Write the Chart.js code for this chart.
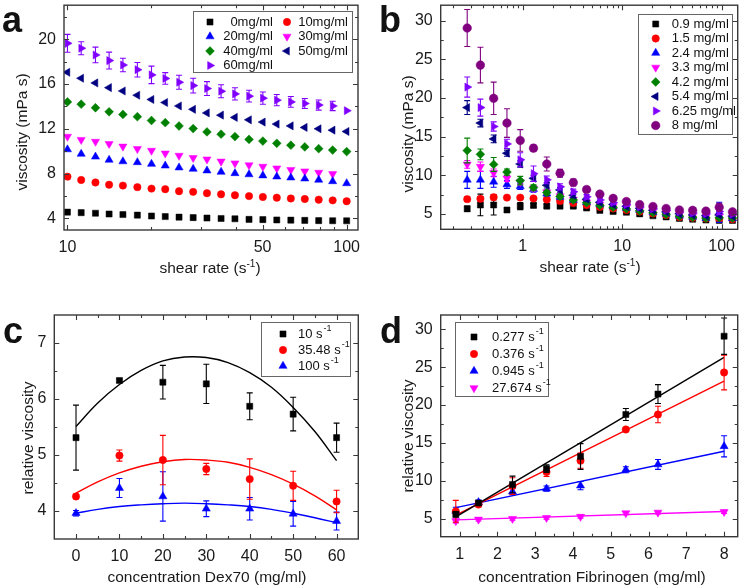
<!DOCTYPE html>
<html>
<head>
<meta charset="utf-8">
<script src="https://cdn.jsdelivr.net/npm/chart.js@4.4.1/dist/chart.umd.min.js"></script>
<style>
  body { margin: 0; background: #fff; width: 750px; height: 588px; position: relative; overflow: hidden;
         font-family: 'Liberation Sans', Arial, sans-serif; color: #1a1a1a; }
  canvas { position: absolute; }
  .letter { position: absolute; font: bold 36px 'Liberation Sans', Arial, sans-serif; line-height: 36px; color: #111; }
  .xt, .yt { position: absolute; white-space: nowrap; font-size: 15.5px; line-height: 18px; }
  .xt { transform: translate(-50%, -50%); }
  .yt { transform: translate(-50%, -50%) rotate(-90deg); }
  .sup { font-size: 10px; position: relative; top: -6px; }
</style>
</head>
<body>
<canvas id="chart-a" width="375" height="294" style="left:0;top:0"></canvas>
<canvas id="chart-b" width="375" height="294" style="left:375px;top:0"></canvas>
<canvas id="chart-c" width="375" height="294" style="left:0;top:294px"></canvas>
<canvas id="chart-d" width="375" height="294" style="left:375px;top:294px"></canvas>

<div class="letter" style="left:2px;top:2px">a</div>
<div class="letter" style="left:379px;top:2px">b</div>
<div class="letter" style="left:3px;top:313px">c</div>
<div class="letter" style="left:380px;top:313px">d</div>

<div class="xt" style="left:210px;top:269px">shear rate (s<span class="sup">-1</span>)</div>
<div class="yt" style="left:22px;top:132px">viscosity (mPa s)</div>
<div class="xt" style="left:590px;top:268px">shear rate (s<span class="sup">-1</span>)</div>
<div class="yt" style="left:408px;top:134px">viscosity (mPa s)</div>
<div class="xt" style="left:207px;top:577px">concentration Dex70 (mg/ml)</div>
<div class="yt" style="left:28px;top:438px">relative viscosity</div>
<div class="xt" style="left:592px;top:577px">concentration Fibrinogen (mg/ml)</div>
<div class="yt" style="left:408px;top:436px">relative viscosity</div>

<script>
'use strict';
// ── data: panel a (Dex70 solutions) ─────────────────────────────────────────
const aShear = [10, 11.2, 12.6, 14.1, 15.8, 17.8, 20, 22.4, 25.1, 28.2, 31.6, 35.5, 39.8, 44.7, 50.1, 56.2, 63.1, 70.8, 79.4, 89.1, 100];
const aDex0  = [4.55, 4.5, 4.45, 4.38, 4.33, 4.28, 4.2, 4.15, 4.1, 4.06, 4.02, 3.98, 3.95, 3.9, 3.88, 3.85, 3.83, 3.81, 3.79, 3.78, 3.77];
const aDex10 = [7.72, 7.42, 7.2, 7.0, 6.92, 6.78, 6.65, 6.6, 6.42, 6.36, 6.24, 6.14, 6.06, 5.98, 5.9, 5.84, 5.77, 5.72, 5.66, 5.6, 5.52];
const aDex20 = [10.15, 9.75, 9.5, 9.22, 9.08, 9.0, 8.85, 8.7, 8.53, 8.41, 8.26, 8.14, 8.02, 7.92, 7.82, 7.72, 7.63, 7.54, 7.43, 7.3, 7.12];
const aDex30 = [11.3, 11.02, 10.85, 10.65, 10.42, 10.2, 10.05, 9.8, 9.6, 9.4, 9.27, 9.08, 8.92, 8.75, 8.62, 8.47, 8.33, 8.2, 8.08, 7.96];
const aDex40 = [14.4, 14.2, 13.88, 13.52, 13.28, 13.08, 12.74, 12.55, 12.25, 12.02, 11.72, 11.52, 11.3, 11.05, 10.9, 10.7, 10.53, 10.38, 10.22, 10.1, 9.96];
const aDex50 = [17.05, 16.52, 16.1, 15.68, 15.38, 15.0, 14.62, 14.35, 14.04, 13.74, 13.42, 13.22, 13.02, 12.8, 12.6, 12.42, 12.26, 12.12, 12.0, 11.88, 11.76];
const aDex60 = [19.64, 19.2, 18.6, 18.1, 17.7, 17.28, 16.82, 16.5, 16.16, 15.86, 15.6, 15.36, 15.12, 14.92, 14.74, 14.56, 14.4, 14.26, 14.12, 14.04, 13.62];
const aDex60Err = [0.8, 0.58, 0.7, 0.75, 0.6, 0.65, 0.78, 0.52, 0.62, 0.66, 0.62, 0.58, 0.55, 0.52, 0.55, 0.5, 0.48, 0.45, 0.45, 0.42, 0];
const aLabels = ['0mg/ml', '10mg/ml', '20mg/ml', '30mg/ml', '40mg/ml', '50mg/ml', '60mg/ml'];
const aTicksX = [10, 50, 100], aMinorX = [20, 30, 40, 60, 70, 80, 90];
const aTicksY = [4, 8, 12, 16, 20], aMinorY = [6, 10, 14, 18, 22];

// ── data: panel b (fibrinogen solutions) ────────────────────────────────────
const bShear = [0.277, 0.376, 0.511, 0.695, 0.945, 1.285, 1.747, 2.375, 3.229, 4.39, 5.969, 8.115, 11.03, 15.0, 20.39, 27.674, 37.62, 51.15, 69.54, 94.54, 128.5];
const bFib09  = [5.65, 6.15, 6.15, 5.5, 6.0, 6.1, 6.0, 6.0, 6.0, 5.75, 5.45, 5.3, 5.2, 5.0, 4.75, 4.6, 4.4, 4.3, 4.2, 4.15, 4.15];
const bFib09Err  = [0.35, 1.4, 1.3, 0.15, 0.45, 0.25, 0.2, 0.2, 0.2, 0.2, 0.15, 0.15, 0.15, 0.15, 0.15, 0.15, 0.15, 0.15, 0.15, 0.2, 0.15];
const bFib15  = [6.9, 6.95, 7.15, 7.1, 7.1, 7.0, 6.85, 6.65, 6.4, 6.15, 5.9, 5.7, 5.5, 5.3, 5.05, 4.85, 4.6, 4.5, 4.4, 4.35, 4.3];
const bFib15Err  = [0.3, 0.3, 0.35, 0.2, 0.25, 0.2, 0.2, 0.2, 0.2, 0.15, 0.15, 0.15, 0.15, 0.15, 0.15, 0.15, 0.15, 0.15, 0.15, 0.2, 0.15];
const bFib24  = [9.4, 9.4, 9.15, 8.8, 8.55, 8.2, 7.6, 7.2, 6.8, 6.5, 6.2, 5.95, 5.75, 5.5, 5.2, 5.0, 4.75, 4.6, 4.45, 5.2, 4.4];
const bFib24Err  = [1.1, 1.1, 0.7, 0.5, 0.4, 0.4, 0.3, 0.3, 0.3, 0.3, 0.25, 0.25, 0.2, 0.2, 0.2, 0.2, 0.2, 0.2, 0.2, 1.3, 0.2];
const bFib33  = [11.4, 11.1, 10.3, 9.6, 9.1, 8.3, 7.8, 7.3, 6.85, 6.5, 6.2, 6.0, 5.8, 5.5, 5.3, 5.1, 4.85, 4.7, 4.6, 4.7, 4.55];
const bFib33Err  = [0.5, 0.6, 0.5, 0.4, 0.35, 0.3, 0.3, 0.25, 0.25, 0.2, 0.2, 0.2, 0.2, 0.2, 0.2, 0.2, 0.2, 0.2, 0.2, 0.25, 0.2];
const bFib42  = [13.2, 12.7, 11.4, 10.4, 9.3, 8.4, 7.75, 7.25, 6.8, 6.45, 6.1, 5.85, 5.65, 5.4, 5.15, 4.95, 4.7, 4.55, 4.45, 4.5, 4.45];
const bFib42Err  = [1.6, 0.7, 0.9, 0.4, 0.55, 0.35, 0.3, 0.3, 0.25, 0.25, 0.2, 0.2, 0.2, 0.2, 0.2, 0.2, 0.2, 0.2, 0.2, 0.2, 0.2];
const bFib54  = [18.75, 16.75, 14.7, 12.85, 11.45, 9.6, 8.7, 8.1, 7.4, 6.9, 6.5, 6.2, 5.95, 5.7, 5.45, 5.25, 5.0, 4.85, 4.75, 4.85, 4.7];
const bFib54Err  = [0.9, 0.5, 0.5, 0.4, 0.4, 0.4, 0.35, 0.3, 0.3, 0.25, 0.25, 0.2, 0.2, 0.2, 0.2, 0.2, 0.2, 0.2, 0.2, 0.2, 0.2];
const bFib625 = [21.4, 18.75, 16.3, 14.05, 12.0, 10.2, 9.4, 8.5, 7.85, 7.2, 6.8, 6.45, 6.2, 5.9, 5.65, 5.45, 5.25, 5.1, 5.0, 5.3, 4.95];
const bFib625Err = [1.3, 1.1, 0.6, 0.6, 0.9, 1.0, 0.5, 0.4, 0.35, 0.3, 0.3, 0.25, 0.25, 0.2, 0.2, 0.2, 0.2, 0.2, 0.2, 0.4, 0.2];
const bFib8   = [29.05, 24.25, 19.95, 16.75, 14.5, 13.5, 11.45, 10.25, 9.05, 8.15, 7.55, 7.0, 6.6, 6.2, 5.95, 5.7, 5.5, 5.45, 5.35, 5.85, 5.25];
const bFib8Err   = [2.4, 2.3, 2.1, 1.85, 1.4, 0.4, 0.9, 0.5, 0.45, 0.35, 0.3, 0.3, 0.25, 0.25, 0.2, 0.2, 0.2, 0.2, 0.2, 0.5, 0.2];
const bLabels = ['0.9 mg/ml', '1.5 mg/ml', '2.4 mg/ml', '3.3 mg/ml', '4.2 mg/ml', '5.4 mg/ml', '6.25 mg/ml', '8 mg/ml'];
const bTicksX = [1, 10, 100];
const bMinorX = [0.2, 0.3, 0.4, 0.5, 0.6, 0.7, 0.8, 0.9, 2, 3, 4, 5, 6, 7, 8, 9, 20, 30, 40, 50, 60, 70, 80, 90];
const bTicksY = [5, 10, 15, 20, 25, 30], bMinorY = [7.5, 12.5, 17.5, 22.5, 27.5];

// ── data: panel c (relative viscosity vs Dex70) ─────────────────────────────
const cDex = [0, 10, 20, 30, 40, 50, 60];
const c10   = [5.31, 6.33, 6.30, 6.27, 5.87, 5.73, 5.31];
const c10Err  = [0.58, 0.03, 0.3, 0.35, 0.24, 0.3, 0.26];
const c35   = [4.26, 4.99, 4.91, 4.75, 4.57, 4.45, 4.17];
const c35Err  = [0.04, 0.1, 0.44, 0.1, 0.36, 0.26, 0.2];
const c100  = [3.96, 4.41, 4.26, 4.04, 4.04, 3.95, 3.82];
const c100Err = [0.05, 0.17, 0.44, 0.14, 0.2, 0.22, 0.16];
const cFitX   = [0, 5, 10, 15, 20, 25, 30, 35, 40, 45, 50, 55, 60];
const cFit10  = [5.51, 5.93, 6.26, 6.51, 6.68, 6.75, 6.74, 6.65, 6.47, 6.21, 5.85, 5.42, 4.90];
const cFit35  = [4.32, 4.52, 4.68, 4.80, 4.88, 4.92, 4.91, 4.87, 4.78, 4.65, 4.48, 4.27, 4.02];
const cFit100 = [3.96, 4.03, 4.08, 4.11, 4.13, 4.14, 4.13, 4.11, 4.08, 4.03, 3.96, 3.88, 3.79];
const cLabels = ['10 s^-1', '35.48 s^-1', '100 s^-1'];
const cTicksX = [0, 10, 20, 30, 40, 50, 60], cMinorX = [5, 15, 25, 35, 45, 55];
const cTicksY = [4, 5, 6, 7], cMinorY = [4.5, 5.5, 6.5];

// ── data: panel d (relative viscosity vs fibrinogen) ────────────────────────
const dFib = [0.9, 1.5, 2.4, 3.3, 4.2, 5.4, 6.25, 8];
const d277   = [5.55, 7.05, 9.5, 11.6, 13.2, 18.75, 21.45, 29.1];
const d277Err  = [0.35, 0.3, 1.1, 0.5, 1.7, 0.8, 1.25, 2.4];
const d376   = [5.95, 6.85, 9.3, 11.15, 12.65, 16.77, 18.75, 24.3];
const d376Err  = [1.45, 0.3, 1.1, 0.6, 1.0, 0.2, 1.1, 2.3];
const d945   = [6.0, 7.15, 8.55, 8.95, 9.35, 11.45, 12.15, 14.55];
const d945Err  = [0.5, 0.3, 0.4, 0.35, 0.55, 0.4, 0.65, 1.4];
const d27674 = [4.68, 4.88, 4.97, 5.1, 5.25, 5.72, 5.8, 5.88];
const d27674Err = [0.25, 0.2, 0.2, 0.2, 0.2, 0.2, 0.2, 0.2];
const dFitX = [0.9, 8];
const dFit277 = [5.22, 26.3], dFit376 = [5.44, 23.15], dFit945 = [6.45, 13.9], dFit27674 = [4.82, 5.93];
const dLabels = ['0.277 s^-1', '0.376 s^-1', '0.945 s^-1', '27.674 s^-1'];
const dTicksX = [1, 2, 3, 4, 5, 6, 7, 8], dMinorX = [1.5, 2.5, 3.5, 4.5, 5.5, 6.5, 7.5];
const dTicksY = [5, 10, 15, 20, 25, 30], dMinorY = [7.5, 12.5, 17.5, 22.5, 27.5];

// ── styles ──────────────────────────────────────────────────────────────────
const FONT = "'Liberation Sans', Arial, sans-serif";
Chart.defaults.font.family = FONT;
Chart.defaults.color = '#1a1a1a';

const BLACK = '#000000', RED = '#ff0000', BLUE = '#0000ff', MAGENTA = '#ff00ff',
      GREEN = '#008000', NAVY = '#000080', VIOLET = '#8000ff', PURPLE = '#800080';

const SHAPE = {
  square:  { style: 'rect',     rot: 0,   r: 4.3 },
  circle:  { style: 'circle',   rot: 0,   r: 3.7 },
  up:      { style: 'triangle', rot: 0,   r: 4.7 },
  down:    { style: 'triangle', rot: 180, r: 4.7 },
  diamond: { style: 'rectRot',  rot: 0,   r: 4.4 },
  left:    { style: 'triangle', rot: -90, r: 4.7 },
  right:   { style: 'triangle', rot: 90,  r: 4.7 },
};

function pts(xs, ys) { return ys.map((y, i) => ({ x: xs[i], y })); }

function marker(label, xs, ys, errs, color, shape, order) {
  const s = SHAPE[shape];
  return {
    label, data: pts(xs, ys), errors: errs, order: order || 0,
    backgroundColor: color, borderColor: color, borderWidth: 0.5,
    pointRadius: s.r, pointStyle: s.style, pointRotation: s.rot,
  };
}

function fitLine(xs, ys, color, tension) {
  return { data: pts(xs, ys), showLine: true, borderColor: color, borderWidth: 1.4,
           pointRadius: 0, tension, order: 20 };
}

// text with a "^-1" style superscript tail
function richText(ctx, text, x, y, align) {
  const [base, sup] = text.split('^');
  ctx.font = `13px ${FONT}`;
  const wb = ctx.measureText(base).width;
  ctx.font = `9px ${FONT}`;
  const ws = sup ? ctx.measureText(sup).width + 1 : 0;
  const x0 = align === 'right' ? x - wb - ws : x;
  ctx.textAlign = 'left';
  ctx.textBaseline = 'middle';
  ctx.font = `13px ${FONT}`;
  ctx.fillText(base, x0, y);
  if (sup) { ctx.font = `9px ${FONT}`; ctx.fillText(sup, x0 + wb + 1, y - 5); }
}

// ── plugins ────────────────────────────────────────────────────────────────
const errorBars = {
  id: 'errorBars',
  beforeDatasetDraw(chart, args) {
    const ds = chart.data.datasets[args.index];
    if (!ds.errors) return;
    const { ctx, chartArea: a, scales: { y } } = chart;
    ctx.save();
    ctx.beginPath();
    ctx.rect(a.left, a.top - 2, a.right - a.left, a.bottom - a.top + 4);
    ctx.clip();
    ctx.strokeStyle = ds.borderColor;
    ctx.lineWidth = 1.1;
    args.meta.data.forEach((pt, j) => {
      const e = ds.errors[j];
      if (!e) return;
      const v = ds.data[j].y;
      const t = y.getPixelForValue(v + e), b = y.getPixelForValue(v - e);
      ctx.beginPath();
      ctx.moveTo(pt.x, t); ctx.lineTo(pt.x, b);
      ctx.moveTo(pt.x - 3, t); ctx.lineTo(pt.x + 3, t);
      ctx.moveTo(pt.x - 3, b); ctx.lineTo(pt.x + 3, b);
      ctx.stroke();
    });
    ctx.restore();
  }
};

const frameTicks = {
  id: 'frameTicks',
  afterDatasetsDraw(chart, args, o) {
    const { ctx, chartArea: a, scales: { x, y } } = chart;
    ctx.save();
    ctx.strokeStyle = '#383838';
    ctx.lineWidth = 1.4;
    ctx.strokeRect(a.left, a.top, a.right - a.left, a.bottom - a.top);
    ctx.lineWidth = 1.1;
    const vert = (vals, len) => vals.forEach(v => {
      const px = Math.round(x.getPixelForValue(v)) + 0.5;
      ctx.beginPath();
      ctx.moveTo(px, a.bottom); ctx.lineTo(px, a.bottom - len);
      ctx.moveTo(px, a.top); ctx.lineTo(px, a.top + len);
      ctx.stroke();
    });
    const horz = (vals, len) => vals.forEach(v => {
      const py = Math.round(y.getPixelForValue(v)) + 0.5;
      ctx.beginPath();
      ctx.moveTo(a.left, py); ctx.lineTo(a.left + len, py);
      ctx.moveTo(a.right, py); ctx.lineTo(a.right - len, py);
      ctx.stroke();
    });
    vert(o.xMajor, 5); vert(o.xMinor, 3);
    horz(o.yMajor, 5); horz(o.yMinor, 3);
    ctx.restore();
  }
};

const boxLegend = {
  id: 'boxLegend',
  afterDraw(chart, args, o) {
    const ctx = chart.ctx;
    const [bx, by, bw, bh] = o.box;
    ctx.save();
    ctx.fillStyle = '#fff';
    ctx.fillRect(bx, by, bw, bh);
    ctx.strokeStyle = '#666';
    ctx.lineWidth = 1;
    ctx.strokeRect(bx + 0.5, by + 0.5, bw, bh);
    o.items.forEach(it => {
      const ds = chart.data.datasets[it.ds];
      ctx.fillStyle = ds.backgroundColor;
      ctx.strokeStyle = ds.borderColor;
      ctx.lineWidth = ds.borderWidth;
      Chart.helpers.drawPoint(ctx, { pointStyle: ds.pointStyle, rotation: ds.pointRotation,
        radius: ds.pointRadius, borderWidth: ds.borderWidth }, it.mx, it.y);
      ctx.fillStyle = '#111';
      richText(ctx, ds.label, it.tx, it.y, it.align);
    });
    ctx.restore();
  }
};

// ── chart factory ──────────────────────────────────────────────────────────
function makePanel(id, p) {
  const W = 375, H = 294;
  const fixPad = s => { s.paddingTop = 0; s.paddingBottom = 0; s.paddingLeft = 0; s.paddingRight = 0; };
  const tickFont = { size: 16, family: FONT };
  return new Chart(document.getElementById(id), {
    type: 'scatter',
    data: { datasets: p.datasets },
    options: {
      responsive: false, animation: false, events: [],
      layout: { padding: { left: 0, top: p.area.top, right: W - p.area.right, bottom: 0 } },
      plugins: {
        legend: { display: false }, tooltip: { enabled: false },
        frameTicks: { xMajor: p.xTicks, xMinor: p.xMinor, yMajor: p.yTicks, yMinor: p.yMinor },
        boxLegend: p.legend,
      },
      scales: {
        x: {
          type: p.xType, min: p.xRange[0], max: p.xRange[1],
          grid: { display: false, drawTicks: false }, border: { display: false },
          afterBuildTicks: s => { s.ticks = p.xTicks.map(v => ({ value: v })); },
          ticks: { font: tickFont, color: '#1a1a1a', padding: 8, maxRotation: 0, autoSkip: false,
                   callback: v => String(v) },
          afterFit: s => { fixPad(s); s.height = H - p.area.bottom; },
        },
        y: {
          type: 'linear', min: p.yRange[0], max: p.yRange[1],
          grid: { display: false, drawTicks: false }, border: { display: false },
          afterBuildTicks: s => { s.ticks = p.yTicks.map(v => ({ value: v })); },
          ticks: { font: tickFont, color: '#1a1a1a', padding: 8, autoSkip: false,
                   callback: v => String(v) },
          afterFit: s => { fixPad(s); s.width = p.area.left; },
        },
      },
    },
    plugins: [errorBars, frameTicks, boxLegend],
  });
}

// ── panel a ────────────────────────────────────────────────────────────────
makePanel('chart-a', {
  xType: 'logarithmic', xRange: [9.72, 109.8], yRange: [2.95, 23.05],
  area: { left: 64, right: 358, top: 5, bottom: 230 },
  xTicks: aTicksX, xMinor: aMinorX, yTicks: aTicksY, yMinor: aMinorY,
  datasets: [
    marker(aLabels[0], aShear, aDex0,  null, BLACK,   'square'),
    marker(aLabels[1], aShear, aDex10, null, RED,     'circle'),
    marker(aLabels[2], aShear, aDex20, null, BLUE,    'up'),
    marker(aLabels[3], aShear, aDex30, null, MAGENTA, 'down'),
    marker(aLabels[4], aShear, aDex40, null, GREEN,   'diamond'),
    marker(aLabels[5], aShear, aDex50, null, NAVY,    'left'),
    marker(aLabels[6], aShear, aDex60, aDex60Err, VIOLET, 'right'),
  ],
  legend: {
    box: [193, 11, 159, 61],
    items: [
      { ds: 0, mx: 210, tx: 273, y: 22, align: 'right' },
      { ds: 1, mx: 287, tx: 348, y: 22, align: 'right' },
      { ds: 2, mx: 210, tx: 273, y: 36.5, align: 'right' },
      { ds: 3, mx: 287, tx: 348, y: 36.5, align: 'right' },
      { ds: 4, mx: 210, tx: 273, y: 51, align: 'right' },
      { ds: 5, mx: 287, tx: 348, y: 51, align: 'right' },
      { ds: 6, mx: 210, tx: 273, y: 65.5, align: 'right' },
    ],
  },
});

// ── panel b ────────────────────────────────────────────────────────────────
const bSeries = [bFib09, bFib15, bFib24, bFib33, bFib42, bFib54, bFib625, bFib8];
const bErrs = [bFib09Err, bFib15Err, bFib24Err, bFib33Err, bFib42Err, bFib54Err, bFib625Err, bFib8Err];
const bColors = [BLACK, RED, BLUE, MAGENTA, GREEN, NAVY, VIOLET, PURPLE];
const bShapes = ['square', 'circle', 'up', 'down', 'diamond', 'left', 'right', 'circle'];
makePanel('chart-b', {
  xType: 'logarithmic', xRange: [0.15, 145], yRange: [3, 32],
  area: { left: 65.7, right: 362.7, top: 5, bottom: 229.3 },
  xTicks: bTicksX, xMinor: bMinorX, yTicks: bTicksY, yMinor: bMinorY,
  datasets: bSeries.map((s, i) => {
    const d = marker(bLabels[i], bShear, s, bErrs[i], bColors[i], bShapes[i], 8 - i);
    if (i === 7) d.pointRadius = 4.3;
    return d;
  }),
  legend: {
    box: [263, 14, 94, 120],
    items: bLabels.map((_, i) => ({ ds: i, mx: 280.7, tx: 296.7, y: 24 + i * 14.5, align: 'left' })),
  },
});

// ── panel c ────────────────────────────────────────────────────────────────
makePanel('chart-c', {
  xType: 'linear', xRange: [-5, 65], yRange: [3.5, 7.5],
  area: { left: 54.3, right: 358.3, top: 21, bottom: 245 },
  xTicks: cTicksX, xMinor: cMinorX, yTicks: cTicksY, yMinor: cMinorY,
  datasets: [
    marker(cLabels[0], cDex, c10,  c10Err,  BLACK, 'square'),
    marker(cLabels[1], cDex, c35,  c35Err,  RED,   'circle'),
    marker(cLabels[2], cDex, c100, c100Err, BLUE,  'up'),
    fitLine(cFitX, cFit10,  BLACK, 0.4),
    fitLine(cFitX, cFit35,  RED,   0.4),
    fitLine(cFitX, cFit100, BLUE,  0.4),
  ],
  legend: {
    box: [261, 28, 89, 54],
    items: [0, 1, 2].map(i => ({ ds: i, mx: 283, tx: 298, y: 40 + i * 16, align: 'left' })),
  },
});

// ── panel d ────────────────────────────────────────────────────────────────
makePanel('chart-d', {
  xType: 'linear', xRange: [0.5, 8.36], yRange: [2.6, 31.9],
  area: { left: 65.7, right: 362.7, top: 21, bottom: 242.7 },
  xTicks: dTicksX, xMinor: dMinorX, yTicks: dTicksY, yMinor: dMinorY,
  datasets: [
    marker(dLabels[0], dFib, d277,   d277Err,   BLACK,   'square'),
    marker(dLabels[1], dFib, d376,   d376Err,   RED,     'circle'),
    marker(dLabels[2], dFib, d945,   d945Err,   BLUE,    'up'),
    marker(dLabels[3], dFib, d27674, d27674Err, MAGENTA, 'down'),
    fitLine(dFitX, dFit277,   BLACK,   0),
    fitLine(dFitX, dFit376,   RED,     0),
    fitLine(dFitX, dFit945,   BLUE,    0),
    fitLine(dFitX, dFit27674, MAGENTA, 0),
  ],
  legend: {
    box: [80, 28, 93, 74],
    items: [0, 1, 2, 3].map(i => ({ ds: i, mx: 99, tx: 117, y: 43 + i * 17, align: 'left' })),
  },
});
</script>
</body>
</html>
